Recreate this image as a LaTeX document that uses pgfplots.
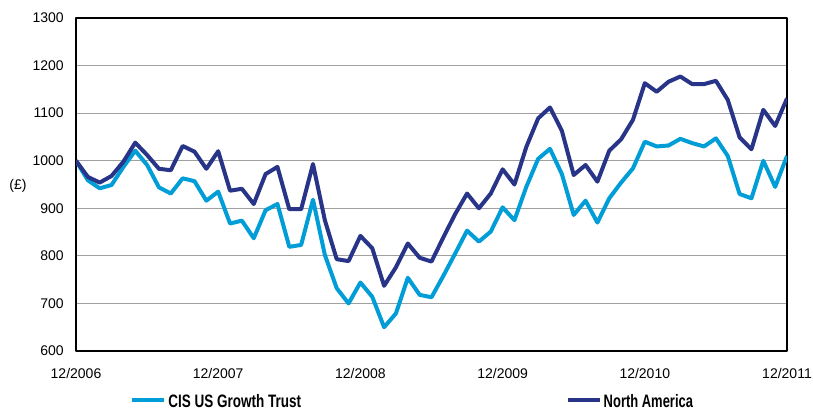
\documentclass[border=0pt]{standalone}
\usepackage{pgfplots}
\pgfplotsset{compat=1.18}
\usepackage{fontspec}
\setmainfont{Liberation Sans}
\definecolor{cislight}{RGB}{0,157,214}
\definecolor{nadark}{RGB}{40,52,135}
\definecolor{gridgray}{RGB}{160,160,160}
\begin{document}
\begin{tikzpicture}
\useasboundingbox (0,0) rectangle (609.75pt,309pt);
\begin{axis}[
  at={(57pt,45.75pt)}, anchor=south west,
  scale only axis, width=533.25pt, height=249.75pt,
  xmin=0, xmax=60, ymin=600, ymax=1300,
  xtick={0,12,24,36,48,60},
  xticklabels={12/2006,12/2007,12/2008,12/2009,12/2010,12/2011},
  ytick={600,700,...,1300},
  major tick length=0pt,
  ymajorgrids, grid style={gridgray, line width=0.7pt},
  axis line style={black, line width=1.3pt},
  /pgf/number format/assume math mode=true,
  /pgf/number format/1000 sep={},
  tick label style={font=\fontsize{10.5}{12}\selectfont},
  yticklabel style={inner sep=0pt, xshift=-9pt},
  xticklabel style={inner sep=0pt, yshift=-12.5pt},
  legend columns=2,
  legend image code/.code={\draw[#1] (0pt,1.8pt) -- (24pt,1.8pt);},
  legend style={draw=none, fill=none, at={(0.0765,-0.153)}, anchor=west,
    inner sep=0pt, outer sep=0pt, nodes={inner sep=0pt},
    font=\fontsize{13.5}{14}\selectfont\bfseries,
    /tikz/every odd column/.append style={column sep=1.5pt}},
  line join=round,
]
\addplot[cislight, line width=3pt] coordinates {
(0,1000)(1,959)(2,942)(3,949)(4,987)(5,1021)(6,991)(7,944)(8,931)(9,963)
(10,957)(11,916)(12,935)(13,868)(14,874)(15,837)(16,896)(17,909)(18,819)(19,823)
(20,918)(21,802)(22,732)(23,700)(24,744)(25,714)(26,650)(27,679)(28,754)(29,718)
(30,713)(31,758)(32,805)(33,853)(34,830)(35,851)(36,902)(37,875)(38,945)(39,1004)
(40,1025)(41,972)(42,886)(43,916)(44,870)(45,921)(46,954)(47,984)(48,1040)(49,1030)
(50,1032)(51,1046)(52,1037)(53,1030)(54,1047)(55,1010)(56,930)(57,921)(58,1000)(59,945)
(60,1010)};
\addlegendentry{\makebox[298pt][l]{\scalebox{0.75}[1]{CIS US Growth Trust}}}
\addplot[nadark, line width=3pt] coordinates {
(0,1000)(1,966)(2,954)(3,968)(4,998)(5,1038)(6,1012)(7,983)(8,980)(9,1031)
(10,1019)(11,983)(12,1020)(13,937)(14,941)(15,909)(16,972)(17,987)(18,898)(19,898)
(20,993)(21,875)(22,793)(23,789)(24,842)(25,816)(26,737)(27,776)(28,826)(29,796)
(30,788)(31,839)(32,888)(33,931)(34,900)(35,931)(36,982)(37,950)(38,1029)(39,1089)
(40,1112)(41,1063)(42,970)(43,991)(44,956)(45,1021)(46,1045)(47,1086)(48,1163)(49,1145)
(50,1166)(51,1177)(52,1161)(53,1161)(54,1168)(55,1128)(56,1049)(57,1024)(58,1107)(59,1073)
(60,1131)};
\addlegendentry{\scalebox{0.72}[1]{North America}}
\end{axis}
\node[font=\fontsize{10.5}{12}\selectfont] at (13.5pt,169.5pt) {(£)};
\end{tikzpicture}
\end{document}
